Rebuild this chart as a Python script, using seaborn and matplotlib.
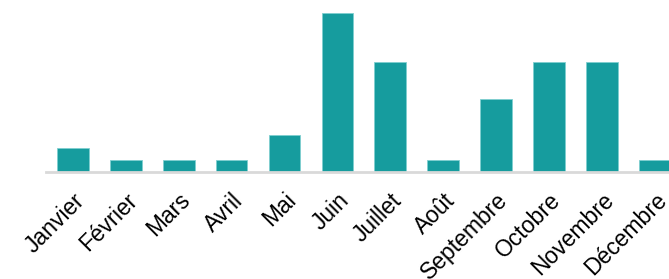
import matplotlib
matplotlib.use("Agg")
import matplotlib.pyplot as plt
import seaborn as sns

# monthly counts
months = ['Janvier', 'Février', 'Mars', 'Avril', 'Mai', 'Juin', 'Juillet',
          'Août', 'Septembre', 'Octobre', 'Novembre', 'Décembre']
counts = [2, 1, 1, 1, 3, 13, 9, 1, 6, 9, 9, 1]

sns.set_style('white')
plt.rcParams['font.family'] = ['Liberation Sans', 'DejaVu Sans']

fig = plt.figure(figsize=(6.69, 2.79), dpi=100)
# axes runs past the right edge, the last bar is cut like in the original
ax = fig.add_axes([46 / 669, 1 - 172 / 279, 1.0, 172 / 279])

sns.barplot(x=months, y=counts, color='#169c9e', saturation=1, width=0.6,
            edgecolor='#7fcfd0', linewidth=0.6, ax=ax)

# stretch so that 1.0 axes width covers beyond the figure
span = 11.27 + 0.51
ax.set_xlim(-0.51, -0.51 + span * 669 / (669 - 46))
ax.set_ylim(0, 172 / 12.23)

sns.despine(ax=ax, left=True, top=True, right=True, bottom=False)
ax.spines['bottom'].set_color('#d9d9d9')
ax.spines['bottom'].set_linewidth(2)
ax.set_yticks([])
ax.tick_params(axis='x', length=0, pad=12)
ax.set_xlabel('')
ax.set_ylabel('')
for lab in ax.get_xticklabels():
    lab.set_rotation(45)
    lab.set_ha('right')
    lab.set_rotation_mode('anchor')
    lab.set_fontsize(16.5)
    lab.set_color('black')

fig.savefig('out.png', dpi=100)
